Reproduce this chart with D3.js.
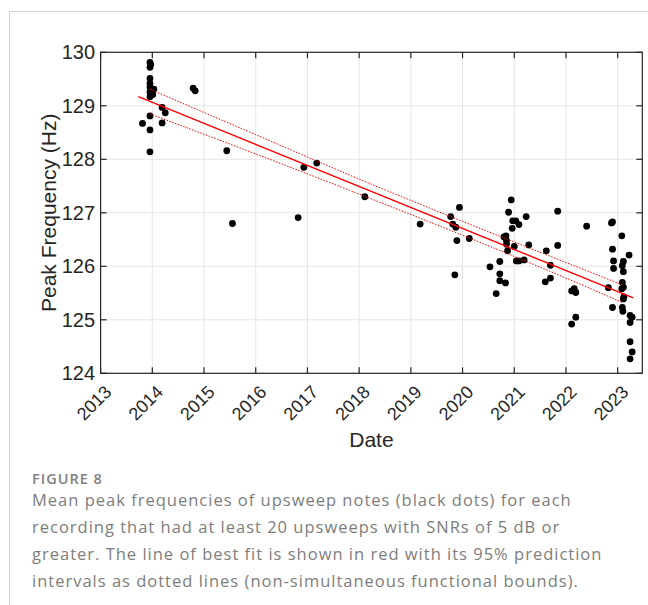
<!DOCTYPE html>
<html>
<head>
<meta charset="utf-8">
<script src="https://cdn.jsdelivr.net/npm/d3@7"></script>
<style>
  html, body { margin: 0; padding: 0; background: #fff; }
  svg { display: block; }
</style>
</head>
<body>
<svg id="chart" width="648" height="605"></svg>
<script>
// ---- Data ----
const pointYears = [
  2013.955, 2013.97, 2013.955, 2013.955, 2013.955, 2013.955, 2014.03, 2013.955, 2014.01, 2013.955,
  2014.19, 2014.25, 2013.955, 2013.81, 2014.19, 2013.955, 2013.955, 2014.79, 2014.83, 2015.44,
  2015.55, 2016.82, 2016.93, 2017.18, 2018.11, 2019.18, 2019.77, 2019.94, 2019.81, 2019.87,
  2019.89, 2020.13, 2019.85, 2020.53, 2020.72, 2020.72, 2020.72, 2020.83, 2020.65, 2020.94,
  2020.89, 2020.97, 2021.03, 2021.09, 2020.96, 2021.23, 2020.80, 2020.84, 2020.85, 2020.85,
  2021.00, 2021.28, 2020.87, 2021.04, 2021.09, 2021.19, 2021.84, 2022.40, 2021.62, 2021.84,
  2021.70, 2021.60, 2021.70, 2022.11, 2022.16, 2022.19, 2022.11, 2022.19, 2022.88, 2022.90,
  2022.82, 2023.08, 2022.90, 2022.92, 2022.92, 2023.11, 2023.09, 2023.11, 2023.22, 2023.09,
  2023.11, 2023.08, 2023.12, 2023.11, 2022.90, 2023.09, 2023.10, 2023.24, 2023.28, 2023.24,
  2023.24, 2023.28, 2023.24
];
const pointHz = [
  129.81, 129.77, 129.72, 129.51, 129.42, 129.35, 129.31, 129.26, 129.21, 129.17,
  128.97, 128.87, 128.81, 128.67, 128.68, 128.55, 128.14, 129.33, 129.28, 128.16,
  126.80, 126.91, 127.85, 127.93, 127.30, 126.79, 126.93, 127.10, 126.79, 126.73,
  126.48, 126.52, 125.84, 125.99, 126.09, 125.86, 125.73, 125.69, 125.49, 127.24,
  127.01, 126.85, 126.85, 126.78, 126.71, 126.93, 126.55, 126.57, 126.48, 126.41,
  126.37, 126.40, 126.29, 126.10, 126.10, 126.12, 127.03, 126.75, 126.29, 126.39,
  126.02, 125.71, 125.78, 125.54, 125.58, 125.51, 124.92, 125.05, 126.81, 126.83,
  125.60, 126.57, 126.32, 126.10, 125.96, 126.09, 126.01, 125.90, 126.21, 125.70,
  125.61, 125.58, 125.43, 125.39, 125.23, 125.23, 125.16, 125.08, 125.05, 124.95,
  124.59, 124.40, 124.27
];

// line of best fit (end points)
const fitYears = [2013.73, 2023.30];
const fitHz = [129.17, 125.41];

// 95% prediction bounds (read at several dates)
const boundYears = [2013.95, 2016, 2018, 2020, 2022, 2023.1];
const upperHz = [129.31, 128.46, 127.63, 126.84, 126.07, 125.65];
const lowerHz = [128.85, 128.10, 127.35, 126.58, 125.78, 125.32];

const xTicks = [2013, 2014, 2015, 2016, 2017, 2018, 2019, 2020, 2021, 2022, 2023];
const yTicks = [124, 125, 126, 127, 128, 129, 130];
const xDomain = [2013, 2023.476];
const yDomain = [124, 130];

const xLabel = "Date";
const yLabel = "Peak Frequency (Hz)";
const figLabel = "FIGURE 8";
const captionLines = [
  "Mean peak frequencies of upsweep notes (black dots) for each",
  "recording that had at least 20 upsweeps with SNRs of 5 dB or",
  "greater. The line of best fit is shown in red with its 95% prediction",
  "intervals as dotted lines (non-simultaneous functional bounds)."
];

// ---- Layout ----
const svg = d3.select("#chart");
const plot = { left: 100.6, right: 642.3, top: 52.3, bottom: 373.3 };
const x = d3.scaleLinear().domain(xDomain).range([plot.left, plot.right]);
const y = d3.scaleLinear().domain(yDomain).range([plot.bottom, plot.top]);
const axisColor = "#262626";
const chartFont = "'Liberation Sans', Arial, Helvetica, sans-serif";

// figure frame
svg.append("path")
  .attr("d", "M9.5,605 L9.5,11.5 L648,11.5")
  .attr("fill", "none").attr("stroke", "#cfcfcf").attr("stroke-width", 1);

// gridlines
const g = svg.append("g");
g.selectAll("line.vg").data(xTicks).join("line")
  .attr("x1", d => x(d)).attr("x2", d => x(d))
  .attr("y1", plot.top).attr("y2", plot.bottom)
  .attr("stroke", "#e6e6e6").attr("stroke-width", 1);
g.selectAll("line.hg").data(yTicks).join("line")
  .attr("x1", plot.left).attr("x2", plot.right)
  .attr("y1", d => y(d)).attr("y2", d => y(d))
  .attr("stroke", "#e6e6e6").attr("stroke-width", 1);

// points
const pts = pointYears.map((yr, i) => ({ yr, hz: pointHz[i] }));
svg.append("g").selectAll("circle").data(pts).join("circle")
  .attr("cx", d => x(d.yr)).attr("cy", d => y(d.hz))
  .attr("r", 3.4).attr("fill", "#000");

// fit line
const line = d3.line().x(d => x(d[0])).y(d => y(d[1]));
svg.append("path")
  .attr("d", line(fitYears.map((v, i) => [v, fitHz[i]])))
  .attr("fill", "none").attr("stroke", "#ff0000").attr("stroke-width", 1.4);

const curve = d3.line().x(d => x(d[0])).y(d => y(d[1])).curve(d3.curveMonotoneX);
[upperHz, lowerHz].forEach(arr => {
  svg.append("path")
    .attr("d", curve(boundYears.map((v, i) => [v, arr[i]])))
    .attr("fill", "none").attr("stroke", "#ff0000").attr("stroke-width", 1)
    .attr("stroke-dasharray", "1.5,1.5");
});

// axes box
svg.append("rect")
  .attr("x", plot.left).attr("y", plot.top)
  .attr("width", plot.right - plot.left).attr("height", plot.bottom - plot.top)
  .attr("fill", "none").attr("stroke", axisColor).attr("stroke-width", 1.2);

// ticks (inward, all four sides)
const tl = 6;
const tg = svg.append("g").attr("stroke", axisColor).attr("stroke-width", 1.2);
xTicks.forEach(t => {
  tg.append("line").attr("x1", x(t)).attr("x2", x(t)).attr("y1", plot.bottom).attr("y2", plot.bottom - tl);
  tg.append("line").attr("x1", x(t)).attr("x2", x(t)).attr("y1", plot.top).attr("y2", plot.top + tl);
});
yTicks.forEach(t => {
  tg.append("line").attr("x1", plot.left).attr("x2", plot.left + tl).attr("y1", y(t)).attr("y2", y(t));
  tg.append("line").attr("x1", plot.right).attr("x2", plot.right - tl).attr("y1", y(t)).attr("y2", y(t));
});

// y tick labels
svg.append("g").selectAll("text").data(yTicks).join("text")
  .attr("x", plot.left - 5.5).attr("y", d => y(d))
  .attr("text-anchor", "end").attr("dominant-baseline", "central")
  .attr("font-family", chartFont).attr("font-size", 20).attr("fill", axisColor)
  .text(d => d);

// x tick labels rotated 45
svg.append("g").selectAll("text").data(xTicks).join("text")
  .attr("transform", d => `translate(${x(d) - 6.5},${403}) rotate(-45)`)
  .attr("text-anchor", "middle").attr("dominant-baseline", "central")
  .attr("font-family", chartFont).attr("font-size", 18).attr("fill", axisColor)
  .text(d => d);

// axis labels
svg.append("text")
  .attr("x", (plot.left + plot.right) / 2).attr("y", 447)
  .attr("text-anchor", "middle")
  .attr("font-family", chartFont).attr("font-size", 21).attr("fill", axisColor)
  .text(xLabel);
svg.append("text")
  .attr("transform", `translate(56,${(plot.top + plot.bottom) / 2}) rotate(-90)`)
  .attr("text-anchor", "middle")
  .attr("font-family", chartFont).attr("font-size", 21).attr("fill", axisColor)
  .text(yLabel);

// caption
const capFont = "'Open Sans', 'Noto Sans', sans-serif";
svg.append("text")
  .attr("x", 32).attr("y", 484)
  .attr("font-family", capFont).attr("font-size", 14.5).attr("font-weight", 600)
  .attr("letter-spacing", 1).attr("fill", "#7f7f7f")
  .text(figLabel);
svg.append("g").selectAll("text").data(captionLines).join("text")
  .attr("x", 32).attr("y", (d, i) => 506 + i * 27)
  .attr("font-family", capFont).attr("font-size", 16.5).attr("letter-spacing", 1)
  .attr("fill", "#7d7d7d")
  .text(d => d);
</script>
</body>
</html>
